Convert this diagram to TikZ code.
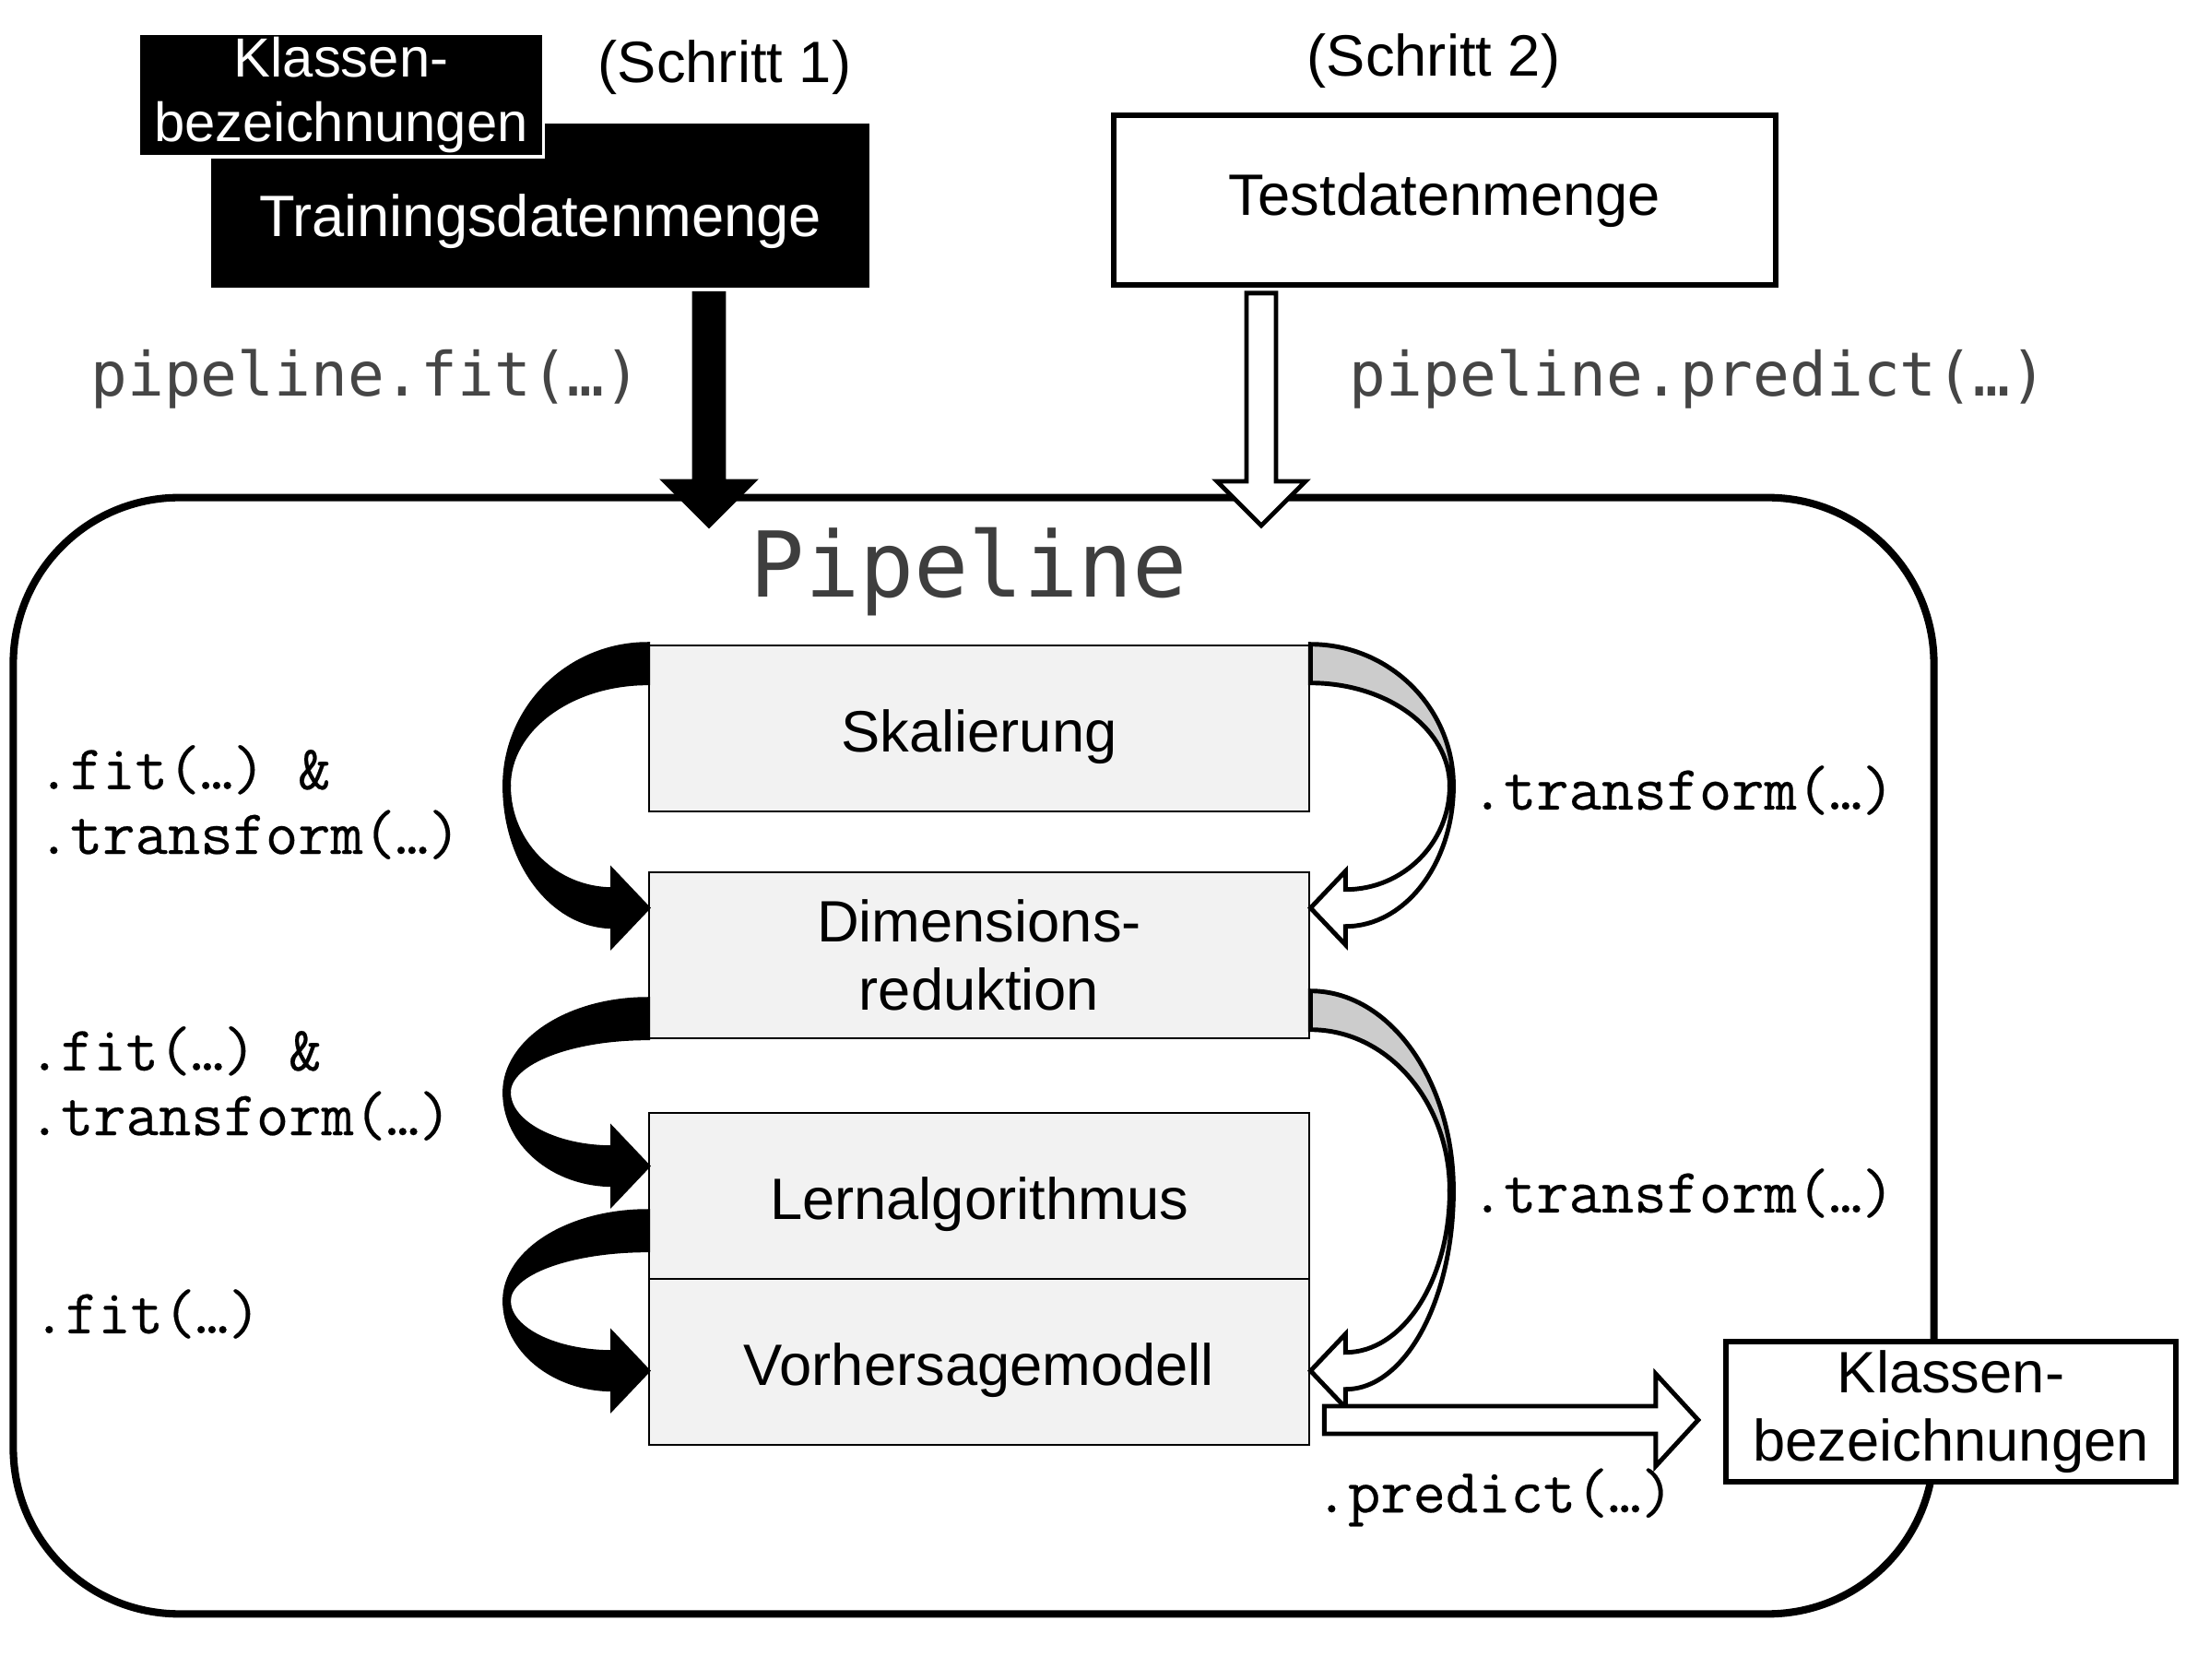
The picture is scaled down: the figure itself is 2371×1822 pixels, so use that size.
\documentclass[tikz,border=0pt]{standalone}
\usepackage{fontspec}
\setmainfont{Liberation Sans}
\newfontfamily\menlo{DejaVu Sans Mono}
\newfontfamily\typew{Latin Modern Mono}[FakeBold=0.35]
\usepackage{tikz}
\usetikzlibrary{calc}
\definecolor{boxgray}{HTML}{F2F2F2}
\definecolor{backgray}{HTML}{CCCCCC}
\definecolor{codegray}{HTML}{454545}

\begin{document}
\begin{tikzpicture}[x=0.01cm,y=-0.01cm,
	stage/.style={draw,line width=0.7pt,fill=boxgray,minimum width=7.16cm,minimum height=1.8cm,inner sep=0pt,align=center,font=\fontsize{18}{21}\selectfont},
	low/.style={text height=0.64cm},
	code/.style={inner sep=0pt,anchor=west,align=left,font=\typew\fontsize{19.5}{20}\selectfont},
	topcode/.style={inner sep=0pt,text=codegray,font=\menlo\fontsize{18.8}{22}\selectfont},
	fat/.style={draw,line width=1.4pt,line join=miter}]
				\useasboundingbox (0,0) rectangle (2371,1822);
				% Pipeline
				\node[draw,line width=2.3pt,rounded corners=1.8cm,minimum width=20.82cm,minimum height=12.1cm] (pipe) at (1056,1145) {};
				\node[text=codegray!90!black,font=\menlo\fontsize{28}{30}\selectfont] (title) at (1051,620) {Pipeline};
				\node[stage,low] (skal) at (1062,790) {Skalierung};
				\node[stage] (dimred) at (1062,1036) {Dimensions-\\reduktion};
				\node[stage,low] (lern) at (1062,1297) {Lernalgorithmus};
				\node[stage,low] (vorh) at (1062,1477) {Vorhersagemodell};
				% Daten
				\node[fill=black,text=white,minimum width=7.13cm,minimum height=1.77cm,text height=0.8cm,font=\fontsize{18}{21}\selectfont] (train) at (586,223) {Trainingsdatenmenge};
				\node[fill=black,draw=white,line width=1pt,text=white,minimum width=4.39cm,minimum height=1.34cm,inner sep=0pt,align=center,font=\fontsize{17}{20}\selectfont] (label1) at (370,103) {Klassen-\\bezeichnungen};
				\node[draw,line width=1.6pt,minimum width=7.18cm,minimum height=1.84cm,font=\fontsize{18}{21}\selectfont] (test) at (1567,217) {Testdatenmenge};
				\node[font=\fontsize{18}{21}\selectfont] (schritt1) at (786,73) {(Schritt 1)};
				\node[font=\fontsize{18}{21}\selectfont] (schritt2) at (1555,66) {(Schritt 2)};
				\node[topcode] (fitlab) at (397,411) {pipeline.fit(…)};
				\node[topcode] (predlab) at (1842,411) {pipeline.predict(…)};
				% Pfeile nach unten
				\coordinate (fitin) at (769,570);
				\coordinate (predin) at (1368,570);
				\foreach \a/\c/\col in {train/fitin/black, test/predin/white}
				\filldraw[fat,fill=\col] ($(\a.south -| \c)+(-16,6)$) -- ($(\c)+(-16,-48)$) -- ++(-32,0) -- (\c) -- ++(48,-48) -- ++(-32,0) -- ($(\a.south -| \c)+(16,6)$) -- cycle;
				% gebogene Pfeile
				\foreach \s/\sa/\h/\d/\cu/\cl in {skal.north west/0/286/-1/black/black, dimred.north west/139/181/-1/black/black, lern.north west/108/173/-1/black/black, skal.north east/0/286/1/backgray/white, dimred.north east/130/412/1/backgray/white}
				{
				 \pgfmathsetmacro\m{(21+\h)/2}
				 \begin{scope}[shift={($(\s)+(0,\sa)$)},xscale=\d]
				 \filldraw[fat,fill=\cu] (0,0) .. controls (85.6,0) and (155,{0.448*\m}) .. (155,\m) -- (151,\m) .. controls (151,{\m-0.552*(\m-42)}) and (83.4,42) .. (0,42) -- cycle;
				 \filldraw[fat,fill=\cl] (155,\m) .. controls (155,{\m+0.552*(\h+20-\m)}) and (102.6,{\h+20}) .. (38,{\h+20}) -- (38,{\h+40}) -- (0,\h) -- (38,{\h-40}) -- (38,{\h-20}) .. controls (100.4,{\h-20}) and (151,{\m+0.552*(\h-20-\m)}) .. (151,\m) -- cycle;
				 \end{scope}
				}
				% Ausgabe
				\node[draw,fill=white,line width=1.7pt,minimum width=4.88cm,minimum height=1.52cm,inner sep=0pt,align=center,font=\fontsize{18}{21}\selectfont] (label2) at (2116,1531) {Klassen-\\bezeichnungen};
				\coordinate (predtip) at ($(label2.west)+(-27,9)$);
				\filldraw[fat,fill=white] ($(vorh.east |- predtip)+(15,-15)$) -- ($(predtip)+(-46,-15)$) -- ++(0,-35) -- (predtip) -- ++(-46,50) -- ++(0,-35) -- ($(vorh.east |- predtip)+(15,15)$) -- cycle;
				% Methoden
				\node[code] (fit1) at (40,870) {.fit(…) \&\\.transform(…)};
				\node[code] (fit2) at (30,1175) {.fit(…) \&\\.transform(…)};
				\node[code] (fit3) at (35,1425) {.fit(…)};
				\node[code] (trans1) at (1595,857) {.transform(…)};
				\node[code] (trans2) at (1595,1294) {.transform(…)};
				\node[code] (pred) at (1426,1624) {.predict(…)};
\end{tikzpicture}
\end{document}
